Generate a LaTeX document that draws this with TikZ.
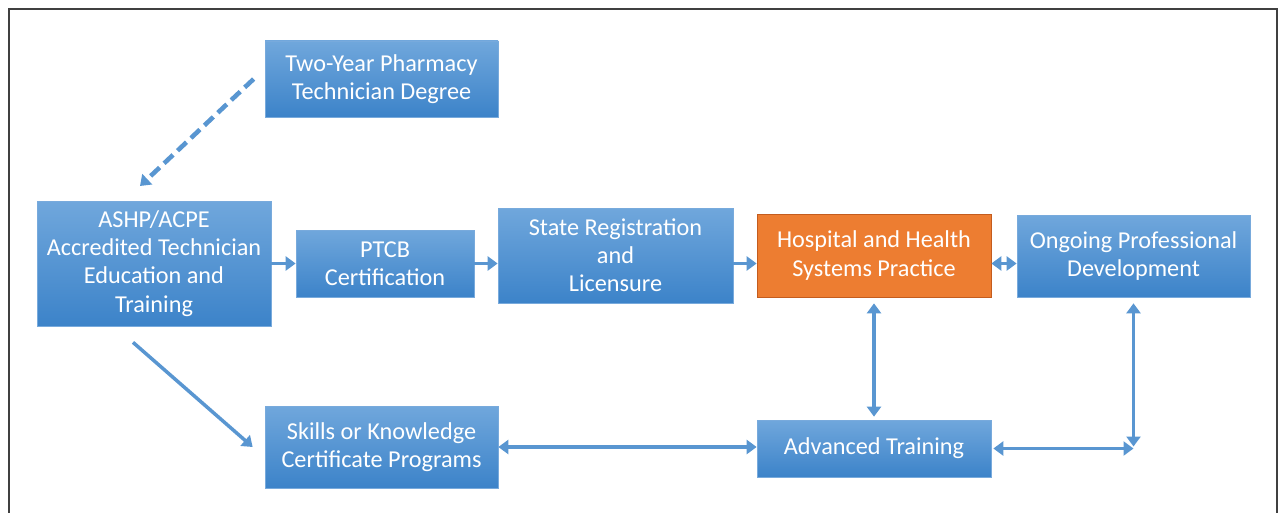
\documentclass[tikz,border=0pt]{standalone}
\usepackage{fontspec}
\setmainfont{Carlito}
\usepackage{tikz}
\usetikzlibrary{arrows.meta}
\definecolor{BoxTop}{RGB}{112,167,220}
\definecolor{BoxBot}{RGB}{60,131,201}
\definecolor{BoxLine}{RGB}{120,170,220}
\definecolor{HospOrange}{RGB}{237,125,49}
\definecolor{HospLine}{RGB}{196,92,30}
\colorlet{ArrowBlue}{BoxBot!85!white}

\begin{document}
\begin{tikzpicture}[
    bluebox/.style = {rectangle, draw=BoxLine, top color=BoxTop, bottom color=BoxBot,
                      text=white, align=center, inner sep=0pt,
                      font=\fontsize{13.8}{16}\selectfont},
    orangebox/.style = {bluebox, draw=HospLine, fill=HospOrange, top color=HospOrange, bottom color=HospOrange},
    flow/.style = {line width=2pt, ArrowBlue, arrows = {-Triangle[length=2mm,width=2.8mm]}},
    twoway/.style = {flow, arrows = {Triangle[length=2mm,width=2.8mm]-Triangle[length=2mm,width=2.8mm]}}
    ]
                    \useasboundingbox (0,0) rectangle (25.58,10.24);
                    \begin{scope}
                        \clip (0,0) rectangle (25.58,10.24);
                        \draw[line width=1pt, black!75] (0.18,-0.5) -- (0.18,10.06) -- (25.54,10.06) -- (25.54,-0.5);
                    \end{scope}
%                    Boxes
                    \node[bluebox, minimum width=4.66cm, minimum height=1.52cm] (twoyear) at (7.63,8.66) {Two-Year Pharmacy\\Technician Degree};
                    \node[bluebox, minimum width=4.68cm, minimum height=2.50cm] (ashp) at (3.08,4.97) {ASHP/ACPE\\Accredited Technician\\Education and\\Training};
                    \node[bluebox, minimum width=3.56cm, minimum height=1.34cm] (ptcb) at (7.70,4.97) {PTCB\\Certification};
                    \node[bluebox, minimum width=4.70cm, minimum height=1.90cm] (state) at (12.31,5.13) {State Registration\\and\\Licensure};
                    \node[orangebox, minimum width=4.68cm, minimum height=1.66cm] (hosp) at (17.48,5.13) {Hospital and Health\\Systems Practice};
                    \node[bluebox, minimum width=4.66cm, minimum height=1.64cm] (ongoing) at (22.67,5.12) {Ongoing Professional\\Development};
                    \node[bluebox, minimum width=4.66cm, minimum height=1.64cm] (skills) at (7.63,1.30) {Skills or Knowledge\\Certificate Programs};
                    \node[bluebox, minimum width=4.68cm, minimum height=1.14cm] (advanced) at (17.48,1.27) {Advanced Training};

%                    Arrows
                    \coordinate (dashtip) at (2.80,6.52);
                    \coordinate (corner) at (ongoing.south |- advanced);
                    \draw[flow, line width=2.6pt, dash pattern=on 7pt off 3.5pt] ([xshift=-0.22cm]twoyear.west) -- (dashtip);
                    \draw[flow] (ashp.east) -- (ptcb.west);
                    \draw[flow] (ptcb.east) -- (state.west |- ptcb.east);
                    \draw[flow] (state.east |- ptcb.east) -- (hosp.west |- ptcb.east);
                    \draw[twoway] (hosp.east |- ptcb.east) -- (ongoing.west |- ptcb.east);
                    \draw[flow] ([shift={(-0.42,-0.32)}]ashp.south) -- ([xshift=-0.24cm]skills.west);
                    \draw[twoway] (skills.east) -- (advanced.west |- skills.east);
                    \draw[twoway, shorten <=0.12cm, shorten >=0.06cm] (hosp.south) -- (advanced.north);
                    \draw[twoway] ([xshift=0.04cm]advanced.east) -- (corner);
                    \draw[twoway, shorten <=0.12cm, shorten >=0.04cm] (ongoing.south) -- (corner);

                \end{tikzpicture}
\end{document}
